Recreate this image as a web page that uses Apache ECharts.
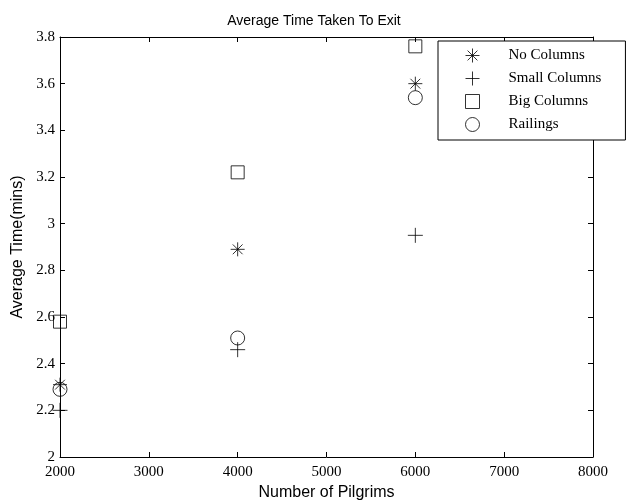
<!DOCTYPE html>
<html>
<head>
<meta charset="utf-8">
<script src="https://cdn.jsdelivr.net/npm/echarts@6/dist/echarts.min.js"></script>
<style>
  html, body { margin: 0; padding: 0; background: #fff; }
  #main { width: 629px; height: 502px; }
</style>
</head>
<body>
<div id="main"></div>
<script>
// pilgrims on the x axis
var pilgrims = [2000, 4000, 6000];
var seriesNames = ['No Columns', 'Small Columns', 'Big Columns', 'Railings'];
var noColumns = [2.31, 2.89, 3.60];
var smallColumns = [2.20, 2.46, 2.95];
var bigColumns = [2.58, 3.22, 3.76];
var railings = [2.29, 2.51, 3.54];

var xTicks = { min: 2000, max: 8000, interval: 1000 };
var yTicks = { min: 2, max: 3.8, interval: 0.2 };

var asterisk = 'path://M0,-1L0,1M-1,0L1,0M-0.7,-0.7L0.7,0.7M-0.7,0.7L0.7,-0.7';
var plus = 'path://M0,-1L0,1M-1,0L1,0';

var myChart = echarts.init(document.getElementById('main'));

function pairs(vals) {
    var out = [];
    for (var i = 0; i < vals.length; i++) {
        out.push([pilgrims[i], vals[i]]);
    }
    return out;
}

var markStyle = { color: 'transparent', borderColor: '#000', borderWidth: 1 };
var serif = 'Liberation Serif';
var sans = 'Liberation Sans';

function makeSeries(name, vals, symbol, size) {
    return {
        name: name,
        type: 'scatter',
        data: pairs(vals),
        symbol: symbol,
        symbolSize: size,
        itemStyle: markStyle,
        emphasis: { disabled: true },
        xAxisIndex: 0,
        yAxisIndex: 0
    };
}

var axisLine = { show: true, onZero: false, lineStyle: { color: '#000', width: 1 } };
var tickIn = { show: true, inside: true, length: 5, lineStyle: { color: '#000' } };

option = {
    animation: false,
    backgroundColor: '#fff',
    title: {
        text: 'Average Time Taken To Exit',
        left: 309,
        textAlign: 'center',
        top: 9,
        textStyle: { fontFamily: sans, fontSize: 14, fontWeight: 'normal', color: '#000' }
    },
    grid: { left: 60, right: 36, top: 37, bottom: 45, outerBoundsMode: 'none' },
    legend: {
        orient: 'vertical',
        left: 438,
        top: 41,
        data: seriesNames,
        itemWidth: 14,
        itemHeight: 14,
        itemGap: 8,
        padding: [7, 24, 8, 27],
        borderColor: '#000',
        borderWidth: 1,
        backgroundColor: '#fff',
        borderRadius: 0,
        itemStyle: { color: 'transparent', borderColor: '#000', borderWidth: 1 },
        textStyle: { fontFamily: serif, fontSize: 15, color: '#000', padding: [0, 0, 0, 24] }
    },
    xAxis: [{
        type: 'value',
        min: xTicks.min, max: xTicks.max, interval: xTicks.interval,
        name: 'Number of Pilgrims',
        nameLocation: 'middle',
        nameGap: 28,
        nameTextStyle: { fontFamily: sans, fontSize: 16, color: '#000' },
        axisLine: axisLine,
        axisTick: tickIn,
        splitLine: { show: false },
        axisLabel: { fontFamily: serif, fontSize: 15, color: '#000', margin: 8,
            formatter: function (v) { return String(v); } }
    }, {
        type: 'value', position: 'top',
        min: xTicks.min, max: xTicks.max, interval: xTicks.interval,
        axisLine: axisLine,
        axisTick: tickIn,
        splitLine: { show: false },
        axisLabel: { show: false }
    }],
    yAxis: [{
        type: 'value',
        min: yTicks.min, max: yTicks.max, interval: yTicks.interval,
        name: 'Average Time(mins)',
        nameLocation: 'middle',
        nameGap: 32,
        nameTextStyle: { fontFamily: sans, fontSize: 16, color: '#000' },
        axisLine: axisLine,
        axisTick: tickIn,
        splitLine: { show: false },
        axisLabel: { fontFamily: serif, fontSize: 15, color: '#000', margin: 5 }
    }, {
        type: 'value', position: 'right',
        min: yTicks.min, max: yTicks.max, interval: yTicks.interval,
        axisLine: axisLine,
        axisTick: tickIn,
        splitLine: { show: false },
        axisLabel: { show: false }
    }],
    series: [
        makeSeries(seriesNames[0], noColumns, asterisk, 14),
        makeSeries(seriesNames[1], smallColumns, plus, 15),
        makeSeries(seriesNames[2], bigColumns, 'rect', 13),
        makeSeries(seriesNames[3], railings, 'circle', 14)
    ]
};

myChart.setOption(option);
</script>
</body>
</html>
